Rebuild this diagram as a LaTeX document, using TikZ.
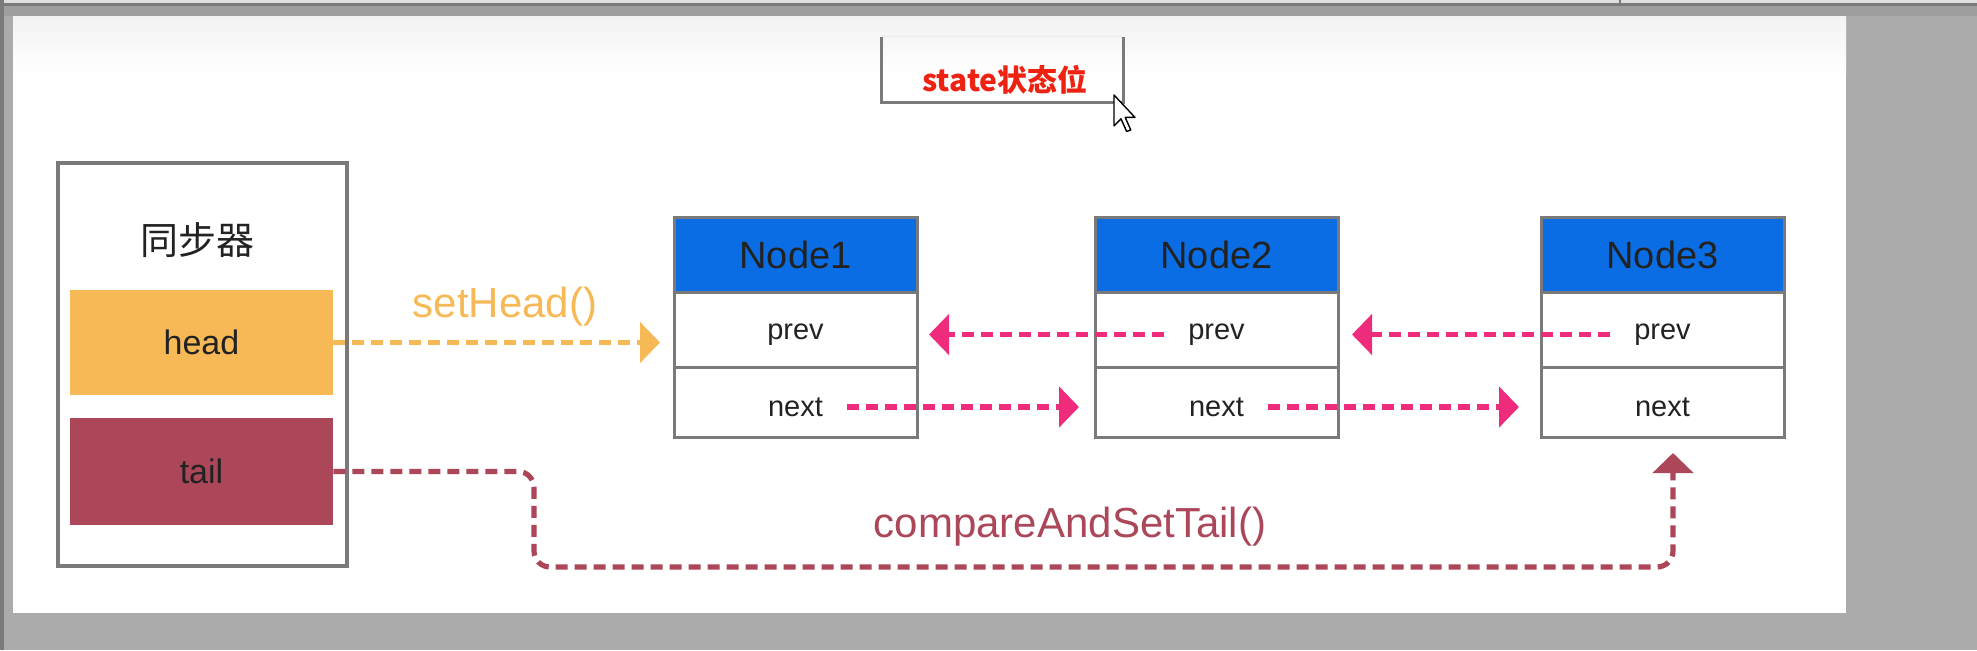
\documentclass[tikz,border=0pt]{standalone}
\usepackage{fontspec}
\setmainfont{Liberation Sans}
\newfontfamily\cjk{Noto Sans CJK SC}
\usetikzlibrary{positioning,arrows.meta,calc}

\begin{document}
\begin{tikzpicture}[x=0.5pt, y=-0.5pt,
    box/.style={draw=lineGray, line width=1.5pt, outer sep=0pt, inner sep=0pt},
    headcell/.style={box, fill=nodeBlue, minimum width=121.5pt, minimum height=37.5pt, font=\fontsize{19}{19}\selectfont, text=inkBlack},
    prevcell/.style={box, fill=white, minimum width=121.5pt, minimum height=37.5pt},
    nextcell/.style={box, fill=white, minimum width=121.5pt, minimum height=35pt},
    celltext/.style={inner xsep=12pt, inner ysep=0pt, yshift=-2.5pt, font=\fontsize{14.5}{14.5}\selectfont, text=inkBlack},
    band/.style={minimum width=131.5pt, inner sep=0pt, font=\fontsize{17}{17}\selectfont, text=inkBlack},
    link/.style={-{Triangle[length=10pt,width=20pt]}, line width=2.6pt, dash pattern=on 6pt off 3.5pt},
]
    % Color Palette
    \definecolor{screenGray}{HTML}{ABABAB}
    \definecolor{barGray}{HTML}{9E9E9E}
    \definecolor{lineGray}{HTML}{7A7A7A}
    \definecolor{inkBlack}{HTML}{222222}
    \definecolor{nodeBlue}{HTML}{0A6DE3}
    \definecolor{headOrange}{HTML}{F7B955}
    \definecolor{tailRed}{HTML}{AB4759}
    \definecolor{linkPink}{HTML}{EF2B7C}
    \definecolor{stateRed}{HTML}{EE2211}

    \useasboundingbox (0,0) rectangle (1977,650);

    % --- Screen background ---
    \fill[screenGray] (0,0) rectangle (1977,650);
    \fill[barGray] (0,0) rectangle (1977,16);
    \fill[gray!25] (0,0) rectangle (1977,3);
    \fill[lineGray] (0,3) rectangle (1977,6);
    \fill[lineGray] (0,0) rectangle (4,650);
    \draw[lineGray, line width=1pt] (1620,0) -- (1620,3);
    \fill[white] (13,16) rectangle (1846,613);
    \shade[top color=gray!10, bottom color=white] (13,16) rectangle (1846,75);

    % --- State flag (Top) ---
    \node[minimum width=120.5pt, minimum height=32.5pt, inner sep=0pt] (state) at (1002.5,69.5) {};
    \draw[gray!12, line width=1.2pt] (state.north west) -- (state.north east);
    \draw[lineGray, line width=1.5pt] (state.north west) -- (state.south west) -- (state.south east) -- (state.north east);
    \node[font={\cjk\bfseries\fontsize{15}{15}\selectfont}, text=stateRed] (statetext) at (1005,80) {state状态位};

    % mouse pointer
    \begin{scope}[shift={(1114,95)}, scale=1.4]
        \draw[fill=white, line width=0.7pt, line join=round] (0,0) -- (0,22) -- (5,17) -- (9,26) -- (12,25) -- (8,16) -- (15,16) -- cycle;
    \end{scope}

    % --- Synchronizer (Left) ---
    \node[draw=lineGray, line width=2pt, fill=white, minimum width=144.5pt, minimum height=201.5pt] (sync) at (202.5,364.5) {};
    \node[font={\cjk\fontsize{19}{19}\selectfont}, text=inkBlack] (synctitle) at (197,240) {同步器};
    \node[band, fill=headOrange, minimum height=52.5pt] (head) at (201.5,342.5) {head};
    \node[band, fill=tailRed, minimum height=53.5pt] (tail) at (201.5,471.5) {tail};

    % --- Queue nodes ---
    \node[headcell] (n1head) at (795.5,254.5) {Node1};
    \node[prevcell, below=0pt of n1head] (n1prev) {};
    \node[nextcell, below=0pt of n1prev] (n1next) {};
    \node[celltext] (p1) at (n1prev) {prev};
    \node[celltext] (x1) at (n1next) {next};

    \node[headcell] (n2head) at (1216.5,254.5) {Node2};
    \node[prevcell, below=0pt of n2head] (n2prev) {};
    \node[nextcell, below=0pt of n2prev] (n2next) {};
    \node[celltext] (p2) at (n2prev) {prev};
    \node[celltext] (x2) at (n2next) {next};

    \node[headcell] (n3head) at (1662.5,254.5) {Node3};
    \node[prevcell, below=0pt of n3head] (n3prev) {};
    \node[nextcell, below=0pt of n3prev] (n3next) {};
    \node[celltext] (p3) at (n3prev) {prev};
    \node[celltext] (x3) at (n3next) {next};

    % setHead
    \node[font=\fontsize{21}{21}\selectfont, text=headOrange] (sethead) at (505,307) {setHead()};
    \draw[link, headOrange, shorten >=7pt] (head.east) -- (head.east -| n1prev.west);

    % prev / next links
    \draw[link, linkPink, shorten >=6pt] (p2.west) -- (p2.west -| n1prev.east);
    \draw[link, linkPink, shorten >=7pt] (p3.west) -- (p3.west -| n2prev.east);
    \draw[link, linkPink, shorten >=8pt] (x1.east) -- (x1.east -| n2next.west);
    \draw[link, linkPink, shorten >=11pt] (x2.east) -- (x2.east -| n3next.west);

    % compareAndSetTail
    \coordinate (tailbend) at (534,567);
    \coordinate (tailend) at (1673,567);
    \draw[link, tailRed, rounded corners=8pt, shorten >=8pt] (tail.east) -| (tailbend) -- (tailend) -- (tailend |- n3next.south);
    \node[font=\fontsize{21}{21}\selectfont, text=tailRed] (casttail) at (1070,527) {compareAndSetTail()};

\end{tikzpicture}
\end{document}
